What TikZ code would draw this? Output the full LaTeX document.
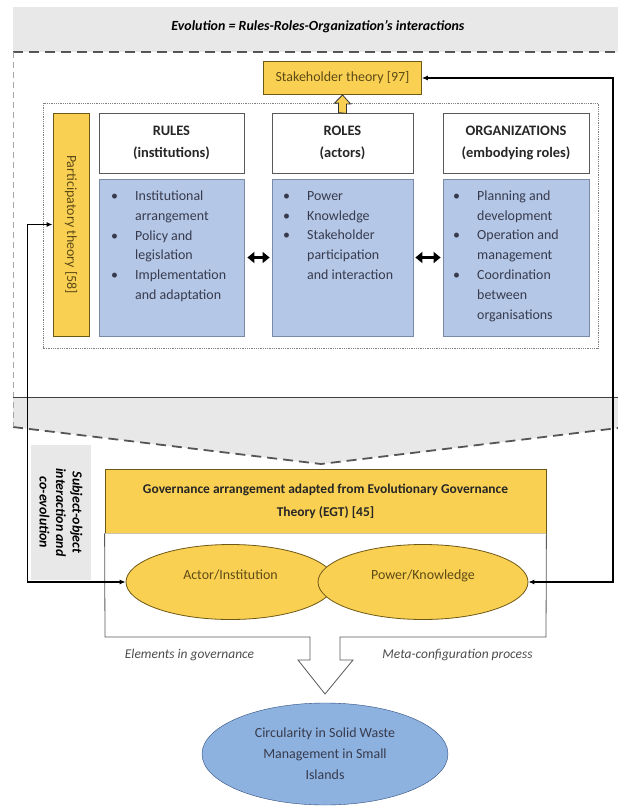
\documentclass[tikz,border=0pt]{standalone}
\usepackage{fontspec}
\setmainfont{Carlito}
\usetikzlibrary{arrows.meta,shapes.geometric}
\definecolor{bandgray}{RGB}{232,232,232}
\definecolor{dashgray}{RGB}{85,85,85}
\definecolor{theoryyellow}{RGB}{250,208,82}
\definecolor{theoryedge}{RGB}{110,88,20}
\definecolor{rolesblue}{RGB}{180,199,231}
\definecolor{bluedge}{RGB}{120,138,168}
\definecolor{goalblue}{RGB}{142,178,224}
\definecolor{goaledge}{RGB}{45,75,125}
\definecolor{bodyink}{RGB}{55,58,76}
\definecolor{oliveink}{RGB}{92,74,22}
\newcommand{\bodylist}[1]{\begin{tabular}{@{}p{24bp}@{}l@{}}#1\end{tabular}}
\begin{document}
\begin{tikzpicture}[x=1bp,y=-1bp,
    every node/.style={font=\fontsize{14}{20}\selectfont},
    theory/.style={draw=theoryedge, fill=theoryyellow, text=oliveink, line width=0.8bp, inner sep=0},
    headbox/.style={draw=gray!70!black, fill=white, line width=0.8bp, align=center, text=black!85,
      font=\fontsize{14.5}{22}\selectfont\bfseries, minimum height=60bp},
    bodybox/.style={draw=bluedge, fill=rolesblue, line width=0.8bp, minimum height=157bp},
    items/.style={anchor=north west, inner sep=0, text=bodyink},
    pairellipse/.style={ellipse, theory, minimum height=75bp, text height=10bp, text depth=16bp},
    conn/.style={draw=black, line width=1.1bp, arrows={Latex[length=6bp,width=5bp]-Latex[length=6bp,width=5bp]}},
    dbl/.style={line width=3.2bp, arrows={Triangle[length=7bp,width=11bp]-Triangle[length=7bp,width=11bp]}},
    drift/.style={dash pattern=on 10bp off 6bp, draw=dashgray, line width=1.8bp},
    note/.style={font=\fontsize{13.5}{16}\selectfont\itshape, text=black!70}]
  \useasboundingbox (0,0) rectangle (618,807);

  % band on top, wedge below
  \fill[bandgray] (13,7) rectangle (618,52);
  \fill[bandgray] (13,397) -- (618,397) -- (618,428) -- (321,464) -- (13,427) -- cycle;
  \draw[drift] (13,52) -- (618,52);
  \draw[drift] (13,427) -- (321,464) -- (618,428);
  \draw[dash pattern=on 6bp off 4bp, draw=gray!70, line width=0.8bp] (13,52) -- (13,427);
  \draw[line width=1bp, draw=black!75] (13,397) -- (618,397);
  \draw[densely dotted, draw=gray, line width=0.8bp] (43,103) rectangle (598,348);

  \node[font=\fontsize{14}{16}\selectfont\bfseries\itshape] (title) at (318,27)
    {Evolution = Rules-Roles-Organization's interactions};

  \node[theory, minimum width=158bp, minimum height=33bp] (stake) at (342.5,78) {Stakeholder theory [97]};
  \node[theory, rotate=-90, minimum width=223bp, minimum height=36bp] (part) at (71,224.5) {Participatory theory [58]};

  \node[headbox, minimum width=145bp] (ruleshead) at (171.5,143) {RULES\\(institutions)};
  \node[headbox, minimum width=141bp] (roleshead) at (342.5,143) {ROLES\\(actors)};
  \node[headbox, minimum width=146bp] (orghead) at (516,143) {ORGANIZATIONS\\(embodying roles)};

  \node[bodybox, minimum width=145bp] (rulesbody) at (171.5,257.5) {};
  \node[bodybox, minimum width=141bp] (rolesbody) at (342.5,257.5) {};
  \node[bodybox, minimum width=146bp] (orgbody) at (516,257.5) {};

  \node[items] (ruleslist) at (111,186) {\bodylist{\textbullet & Institutional\\ & arrangement\\
    \textbullet & Policy and\\ & legislation\\ \textbullet & Implementation\\ & and adaptation}};
  \node[items] (roleslist) at (283,186) {\bodylist{\textbullet & Power\\ \textbullet & Knowledge\\
    \textbullet & Stakeholder\\ & participation\\ & and interaction}};
  \node[items] (orglist) at (453,186) {\bodylist{\textbullet & Planning and\\ & development\\
    \textbullet & Operation and\\ & management\\ \textbullet & Coordination\\ & between\\ & organisations}};

  \draw[dbl] ([xshift=3bp]rulesbody.east) -- ([xshift=-2bp]rolesbody.west);
  \draw[dbl] ([xshift=2bp]rolesbody.east) -- ([xshift=-2bp]orgbody.west);
  \draw[fill=theoryyellow, draw=black!80, line width=0.8bp] (roleshead.north) ++(-4,0) -- ++(0,-9.5)
    -- ++(-4,0) -- (stake.south) -- ++(8,9) -- ++(-4,0) -- ++(0,9.5) -- cycle;

  \node[rotate=-90, fill=bandgray, minimum width=135bp, minimum height=60bp, align=center,
    font=\fontsize{14}{16.5}\selectfont\bfseries\itshape] (coevo) at (61,512.5)
    {Subject-object\\interaction and\\co-evolution};

  \node[theory, text=black!85, font=\fontsize{13.5}{23}\selectfont\bfseries, align=center,
    minimum width=441bp, minimum height=64bp] (gov) at (325.5,501)
    {Governance arrangement adapted from Evolutionary Governance\\Theory (EGT) [45]};
  \draw[draw=gray!70!black, line width=0.8bp, fill=white] (gov.south west) -- (105,637) -- (310,637)
    -- (310,660) -- (298,660) -- (325,694) -- (353,660) -- (340,660) -- (340,637) -- (546,637) -- (gov.south east);

  \node[pairellipse, minimum width=209bp] (actor) at (230.5,582) {Actor/Institution};
  \node[pairellipse, minimum width=210bp] (power) at (423,582) {Power/Knowledge};

  \node[note] (elements) at (189.5,655) {Elements in governance};
  \node[note] (metaconf) at (457.5,655) {Meta-configuration process};

  \node[ellipse, draw=goaledge, fill=goalblue, text=bodyink, align=center, inner sep=0,
    minimum width=246bp, minimum height=102bp, font=\fontsize{14}{21}\selectfont] (goal) at (325,754)
    {Circularity in Solid Waste\\Management in Small\\Islands};

  \coordinate (rline) at (613,0);
  \draw[conn] (part.south) -- ++(-25,0) |- (actor.west);
  \draw[conn] (stake.east) -- (stake.east -| rline) |- (power.east);
\end{tikzpicture}
\end{document}
